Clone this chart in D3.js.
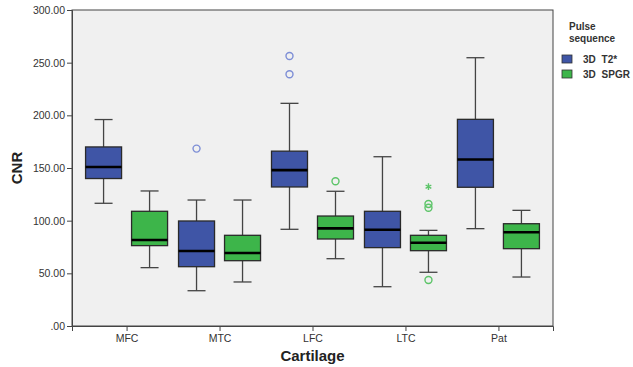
<!DOCTYPE html>
<html>
<head>
<meta charset="utf-8">
<script src="https://cdn.jsdelivr.net/npm/d3@7"></script>
<style>
  body { margin: 0; background: #fff; }
  text { font-family: "Liberation Sans", Arial, sans-serif; }
</style>
</head>
<body>
<svg id="chart" width="633" height="367"></svg>
<script>
// data
const categories = ['MFC', 'MTC', 'LFC', 'LTC', 'Pat'];
const seriesNames = ['3D T2*', '3D SPGR'];
const yTicks = [0, 50, 100, 150, 200, 250, 300];

// [whisker low, q1, median, q3, whisker high]
const t2Boxes = [
  [116.5, 140, 151, 170, 196],
  [33.5, 56.3, 71.2, 99.7, 119.6],
  [91.8, 132, 148, 166, 211.4],
  [37.3, 74.4, 91.4, 108.9, 160.7],
  [92.4, 131.7, 158, 196.2, 254.7]
];
const spgrBoxes = [
  [55.4, 76.3, 81.6, 108.9, 128.2],
  [41.8, 62, 69.3, 86.1, 119.6],
  [63.9, 82.6, 92.7, 104.4, 127.9],
  [51, 71.5, 79.1, 86.1, 90.8],
  [46.5, 73.4, 89, 97.1, 109.8]
];
const t2Outliers = [[], [168.4], [256.3, 239], [], []];
const spgrOutliers = [[], [], [137.4], [115.8, 112.3, 43.7], []];
const spgrExtremes = [[], [], [], [132.3], []];

const colors = ['#3f55a6', '#3db54a'];
const outlierColors = ['#7d8ed6', '#5cc468'];

const svg = d3.select('#chart');
const margin = { top: 10, right: 80, bottom: 41, left: 72 };
const width = +svg.attr('width');
const height = +svg.attr('height');

const x = d3.scalePoint().domain(categories)
  .range([margin.left, width - margin.right]).padding(0.587);
const y = d3.scaleLinear().domain([0, 300])
  .range([height - margin.bottom, margin.top]);

const boxW = 36;
const offsets = [-23, 23];

svg.append('rect')
  .attr('x', margin.left).attr('y', margin.top)
  .attr('width', width - margin.right - margin.left)
  .attr('height', height - margin.bottom - margin.top)
  .attr('fill', '#f0f0f0').attr('stroke', '#444').attr('stroke-width', 1);

// axes
const yAxis = svg.append('g')
  .attr('transform', `translate(${margin.left},0)`)
  .call(d3.axisLeft(y).tickValues(yTicks).tickSize(5)
    .tickFormat(d => d === 0 ? '.00' : d3.format('.2f')(d)));
const xAxis = svg.append('g')
  .attr('transform', `translate(0,${height - margin.bottom})`)
  .call(d3.axisBottom(x).tickSize(5));
[yAxis, xAxis].forEach(g => {
  g.select('.domain').attr('stroke', '#444');
  g.selectAll('.tick line').attr('stroke', '#444');
  g.selectAll('.tick text').attr('fill', '#333').attr('font-size', 10.5);
});
yAxis.selectAll('.tick text').attr('x', -7);
xAxis.selectAll('.tick text').attr('y', 9);

svg.append('text')
  .attr('transform', `translate(22,${y(150)}) rotate(-90)`)
  .attr('text-anchor', 'middle')
  .attr('font-size', 15).attr('font-weight', 'bold').attr('fill', '#222')
  .text('CNR');
svg.append('text')
  .attr('x', (margin.left + width - margin.right) / 2).attr('y', 361)
  .attr('text-anchor', 'middle')
  .attr('font-size', 15).attr('font-weight', 'bold').attr('fill', '#222')
  .text('Cartilage');

// boxes
const allBoxes = [t2Boxes, spgrBoxes];
allBoxes.forEach((boxes, s) => {
  const g = svg.append('g');
  boxes.forEach((b, i) => {
    const cx = x(categories[i]) + offsets[s];
    const [lo, q1, med, q3, hi] = b;
    g.append('line').attr('x1', cx).attr('x2', cx)
      .attr('y1', y(hi)).attr('y2', y(q3)).attr('stroke', '#444').attr('stroke-width', 1.3);
    g.append('line').attr('x1', cx).attr('x2', cx)
      .attr('y1', y(q1)).attr('y2', y(lo)).attr('stroke', '#444').attr('stroke-width', 1.3);
    [lo, hi].forEach(v => {
      g.append('line').attr('x1', cx - boxW / 4).attr('x2', cx + boxW / 4)
        .attr('y1', y(v)).attr('y2', y(v)).attr('stroke', '#444').attr('stroke-width', 1.3);
    });
    g.append('rect')
      .attr('x', cx - boxW / 2).attr('y', y(q3))
      .attr('width', boxW).attr('height', y(q1) - y(q3))
      .attr('fill', colors[s]).attr('stroke', '#2a2a2a').attr('stroke-width', 1.3);
    g.append('line').attr('x1', cx - boxW / 2).attr('x2', cx + boxW / 2)
      .attr('y1', y(med)).attr('y2', y(med)).attr('stroke', '#000').attr('stroke-width', 2.6);
  });
});

// outliers
[t2Outliers, spgrOutliers].forEach((outs, s) => {
  outs.forEach((vals, i) => {
    const cx = x(categories[i]) + offsets[s];
    vals.forEach(v => {
      svg.append('circle').attr('cx', cx).attr('cy', y(v)).attr('r', 3.5)
        .attr('fill', 'none').attr('stroke', outlierColors[s]).attr('stroke-width', 1.4);
    });
  });
});
spgrExtremes.forEach((vals, i) => {
  const cx = x(categories[i]) + offsets[1];
  vals.forEach(v => {
    svg.append('path')
      .attr('transform', `translate(${cx},${y(v)})`)
      .attr('d', d3.symbol().type(d3.symbolAsterisk).size(30)())
      .attr('fill', 'none').attr('stroke', outlierColors[1]).attr('stroke-width', 1.4);
  });
});

// legend
const leg = svg.append('g').attr('transform', 'translate(562,0)');
leg.append('text').attr('x', 7).attr('y', 30)
  .attr('font-size', 10).attr('font-weight', 'bold').attr('fill', '#333').text('Pulse');
leg.append('text').attr('x', 7).attr('y', 42)
  .attr('font-size', 10).attr('font-weight', 'bold').attr('fill', '#333').text('sequence');
seriesNames.forEach((name, s) => {
  leg.append('rect').attr('x', 0).attr('y', 55 + s * 15).attr('width', 10).attr('height', 8)
    .attr('fill', colors[s]).attr('stroke', '#333').attr('stroke-width', 0.8);
  leg.append('text').attr('x', 21).attr('y', 63 + s * 15)
    .attr('font-size', 10).attr('font-weight', 'bold').attr('fill', '#333')
    .attr('word-spacing', 3).text(name);
});
</script>
</body>
</html>
